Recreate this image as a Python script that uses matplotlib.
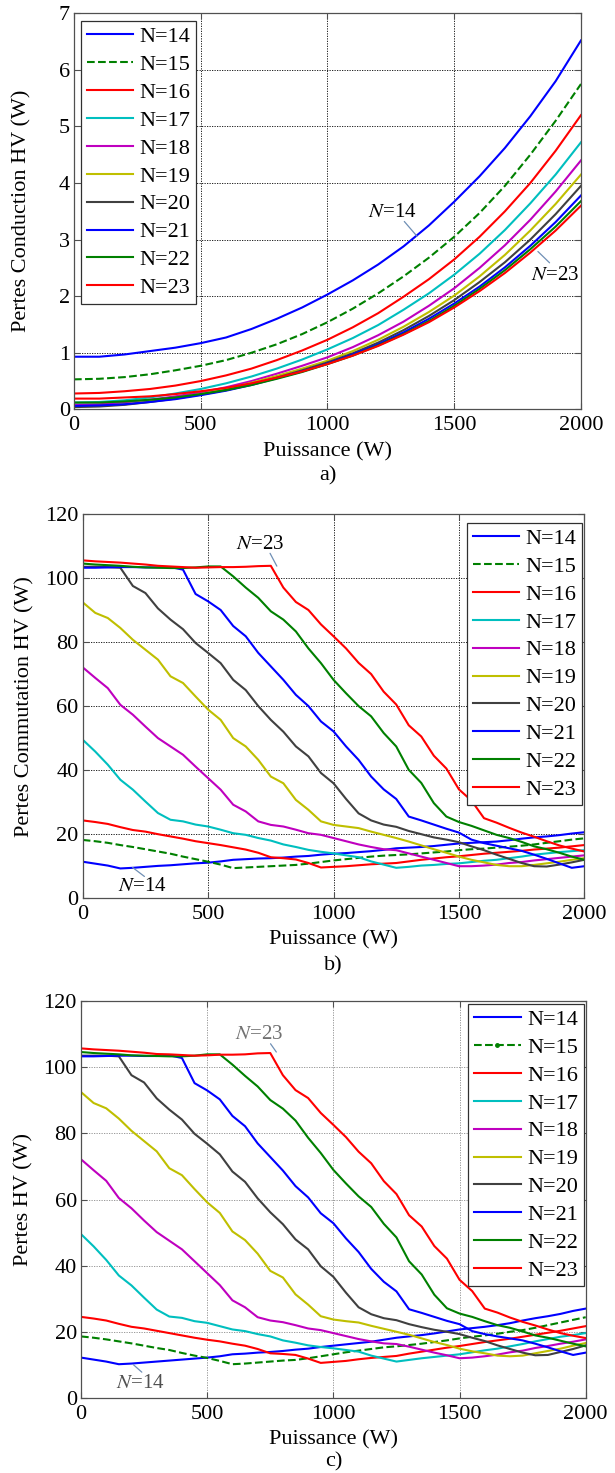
import numpy as np
import matplotlib
matplotlib.use('Agg')
import matplotlib.pyplot as plt
from matplotlib.lines import Line2D
from matplotlib.ticker import MultipleLocator

# ==================== 数据 ====================
LABELS = ['N=14', 'N=15', 'N=16', 'N=17', 'N=18', 'N=19', 'N=20', 'N=21', 'N=22', 'N=23']

# a) 导通损耗，横轴每 100 W 一点
P_a = np.arange(0, 2001, 100)
cond_14 = [0.93, 0.93, 0.97, 1.03, 1.09, 1.17, 1.27, 1.42, 1.60, 1.80, 2.03, 2.28, 2.56, 2.88, 3.25, 3.67, 4.12, 4.62, 5.18, 5.80, 6.52]
cond_15 = [0.53, 0.54, 0.57, 0.62, 0.69, 0.77, 0.87, 1.00, 1.15, 1.33, 1.54, 1.78, 2.05, 2.35, 2.68, 3.05, 3.47, 3.95, 4.50, 5.10, 5.75]
cond_16 = [0.28, 0.29, 0.32, 0.36, 0.42, 0.50, 0.60, 0.72, 0.87, 1.04, 1.23, 1.45, 1.70, 1.99, 2.30, 2.65, 3.05, 3.50, 4.00, 4.57, 5.20]
cond_17 = [0.12, 0.13, 0.16, 0.21, 0.28, 0.36, 0.46, 0.58, 0.72, 0.88, 1.06, 1.26, 1.49, 1.76, 2.05, 2.38, 2.75, 3.17, 3.64, 4.15, 4.72]
cond_18 = [0.08, 0.09, 0.12, 0.17, 0.23, 0.30, 0.39, 0.50, 0.63, 0.77, 0.92, 1.10, 1.31, 1.55, 1.83, 2.14, 2.50, 2.90, 3.35, 3.85, 4.40]
cond_19 = [0.05, 0.06, 0.09, 0.14, 0.20, 0.27, 0.36, 0.47, 0.59, 0.72, 0.86, 1.03, 1.23, 1.46, 1.72, 2.01, 2.35, 2.73, 3.16, 3.63, 4.15]
cond_20 = [0.04, 0.05, 0.08, 0.13, 0.19, 0.26, 0.34, 0.44, 0.56, 0.69, 0.83, 0.99, 1.18, 1.40, 1.65, 1.93, 2.25, 2.60, 3.00, 3.45, 3.95]
cond_21 = [0.06, 0.07, 0.09, 0.13, 0.18, 0.25, 0.33, 0.43, 0.55, 0.67, 0.81, 0.97, 1.15, 1.36, 1.60, 1.87, 2.17, 2.51, 2.89, 3.31, 3.78]
cond_22 = [0.12, 0.12, 0.14, 0.17, 0.21, 0.27, 0.34, 0.43, 0.54, 0.66, 0.80, 0.95, 1.13, 1.33, 1.56, 1.83, 2.13, 2.46, 2.83, 3.23, 3.68]
cond_23 = [0.19, 0.19, 0.21, 0.23, 0.27, 0.32, 0.38, 0.46, 0.56, 0.67, 0.80, 0.95, 1.12, 1.32, 1.54, 1.80, 2.09, 2.41, 2.77, 3.16, 3.60]

# b) 开关损耗，横轴每 50 W 一点
P_b = np.arange(0, 2001, 50)
comm_14 = [11.4, 10.8, 10.2, 9.3, 9.5, 9.8, 10.1, 10.3, 10.6, 10.9, 11.1, 11.5, 12.0, 12.2, 12.4, 12.5, 12.7, 13.0, 13.2, 13.6, 13.9,
           14.1, 14.4, 14.7, 15.1, 15.6, 15.8, 16.0, 16.3, 16.7, 17.1, 17.3, 17.5, 17.7, 18.1, 18.6, 19.0, 19.3, 19.7, 20.2, 20.6]
comm_15 = [18.2, 17.8, 17.3, 16.6, 16.0, 15.3, 14.6, 13.9, 13.0, 12.2, 11.4, 10.5, 9.4, 9.6, 9.8, 10.0, 10.2, 10.4, 10.8, 11.3, 11.8,
           12.2, 12.6, 13.0, 13.3, 13.5, 13.7, 14.0, 14.3, 14.6, 15.0, 15.3, 15.5, 15.8, 16.1, 16.4, 16.8, 17.3, 17.8, 18.3, 18.7]
comm_16 = [24.3, 23.8, 23.2, 22.2, 21.3, 20.8, 20.0, 19.3, 18.6, 17.8, 17.2, 16.6, 15.9, 15.2, 14.2, 12.8, 12.5, 12.1, 11.0, 9.6, 9.8,
           10.0, 10.3, 10.6, 10.8, 11.0, 11.5, 12.0, 12.4, 12.8, 13.1, 13.5, 13.9, 14.2, 14.5, 14.8, 15.2, 15.5, 15.8, 16.2, 16.6]
comm_17 = [49.5, 45.8, 41.7, 37.0, 33.9, 30.2, 26.6, 24.5, 24.0, 23.0, 22.4, 21.4, 20.3, 19.8, 18.8, 18.0, 16.8, 16.0, 15.1, 14.5, 14.0,
           13.4, 12.8, 11.5, 10.5, 9.5, 9.8, 10.2, 10.4, 10.7, 10.9, 11.3, 11.7, 12.0, 12.5, 13.0, 13.6, 14.0, 14.4, 14.7, 15.0]
comm_18 = [72.1, 68.8, 65.6, 60.4, 57.3, 53.6, 50.0, 47.4, 44.8, 41.1, 37.5, 33.9, 29.2, 27.1, 24.0, 22.9, 22.4, 21.4, 20.3, 19.8, 18.8,
           17.8, 16.8, 16.0, 15.3, 15.0, 14.0, 13.0, 12.0, 11.0, 10.0, 10.0, 10.2, 10.5, 11.0, 11.3, 11.8, 12.2, 12.6, 13.0, 13.4]
comm_19 = [92.4, 89.1, 87.5, 84.4, 80.7, 77.6, 74.5, 69.3, 67.2, 63.0, 58.9, 55.7, 50.0, 47.4, 43.2, 38.0, 35.9, 30.7, 27.6, 24.0, 22.9,
           22.4, 21.9, 20.8, 19.8, 18.8, 17.7, 16.5, 15.3, 14.2, 13.0, 12.0, 11.2, 10.4, 10.0, 10.0, 10.4, 10.9, 11.4, 12.0, 12.5]
comm_20 = [103.5, 103.5, 103.4, 103.2, 97.5, 95.3, 90.5, 87.0, 84.0, 79.7, 76.6, 73.4, 68.2, 65.0, 60.0, 55.7, 52.0, 47.4, 44.3, 39.1, 35.9,
           31.0, 26.5, 24.3, 23.0, 22.3, 21.0, 20.0, 19.0, 18.3, 17.5, 16.2, 15.0, 13.6, 12.3, 11.0, 10.0, 9.9, 10.5, 11.2, 12.0]
comm_21 = [103.2, 103.2, 103.3, 103.4, 103.4, 103.3, 103.3, 103.4, 102.6, 95.0, 92.7, 90.0, 85.0, 81.8, 76.6, 72.4, 68.2, 63.5, 60.0, 55.2, 52.1,
           47.4, 43.2, 38.0, 34.0, 31.0, 25.5, 24.3, 23.0, 21.7, 20.5, 18.3, 17.2, 16.4, 15.6, 14.8, 13.6, 12.3, 10.9, 9.5, 10.0]
comm_22 = [104.5, 104.2, 104.0, 103.8, 103.5, 103.3, 103.2, 103.1, 103.1, 103.3, 103.6, 103.6, 100.5, 97.0, 93.8, 89.6, 87.0, 83.3, 78.0, 73.4, 68.2,
           64.0, 60.0, 56.8, 51.6, 47.4, 40.1, 36.0, 29.7, 25.5, 23.8, 22.6, 21.2, 19.8, 18.8, 17.6, 16.2, 15.3, 14.2, 13.0, 12.0]
comm_23 = [105.5, 105.2, 105.0, 104.8, 104.5, 104.2, 103.8, 103.6, 103.4, 103.2, 103.3, 103.4, 103.4, 103.5, 103.7, 103.8, 97.0, 92.5, 90.0, 85.5, 81.8,
           78.0, 73.5, 70.0, 64.5, 60.5, 54.0, 50.5, 44.5, 40.5, 34.0, 30.5, 25.0, 23.6, 22.0, 20.5, 19.2, 17.8, 16.5, 15.5, 14.6]

# c) 高压侧总损耗，横轴每 50 W 一点
P_c = np.arange(0, 2001, 50)
tot_14 = [12.3, 11.7, 11.1, 10.3, 10.5, 10.8, 11.1, 11.4, 11.7, 12.0, 12.3, 12.7, 13.3, 13.5, 13.8, 14.0, 14.3, 14.7, 15.0, 15.5, 15.9,
          16.3, 16.7, 17.1, 17.7, 18.3, 18.7, 19.1, 19.6, 20.2, 20.8, 21.2, 21.6, 22.1, 22.7, 23.5, 24.2, 24.8, 25.5, 26.4, 27.1]
tot_15 = [18.7, 18.3, 17.8, 17.2, 16.6, 15.9, 15.2, 14.6, 13.7, 12.9, 12.2, 11.3, 10.3, 10.5, 10.8, 11.1, 11.4, 11.6, 12.1, 12.7, 13.3,
          13.9, 14.4, 14.9, 15.4, 15.7, 16.1, 16.5, 17.0, 17.5, 18.1, 18.6, 19.0, 19.5, 20.1, 20.6, 21.3, 22.1, 22.9, 23.7, 24.5]
tot_16 = [24.6, 24.1, 23.5, 22.5, 21.6, 21.1, 20.4, 19.7, 19.0, 18.3, 17.7, 17.2, 16.5, 15.9, 14.9, 13.6, 13.4, 13.1, 12.0, 10.7, 11.0,
          11.3, 11.8, 12.2, 12.5, 12.8, 13.5, 14.1, 14.7, 15.3, 15.8, 16.4, 17.0, 17.5, 18.0, 18.6, 19.2, 19.8, 20.4, 21.1, 21.8]
tot_17 = [49.6, 45.9, 41.8, 37.1, 34.1, 30.4, 26.8, 24.7, 24.3, 23.3, 22.8, 21.8, 20.8, 20.3, 19.4, 18.7, 17.5, 16.8, 16.0, 15.5, 15.1,
          14.6, 14.1, 12.9, 12.0, 11.1, 11.6, 12.1, 12.5, 12.9, 13.3, 13.9, 14.5, 15.0, 15.7, 16.4, 17.2, 17.9, 18.6, 19.1, 19.7]
tot_18 = [72.2, 68.9, 65.7, 60.5, 57.4, 53.7, 50.2, 47.6, 45.0, 41.4, 37.8, 34.2, 29.6, 27.5, 24.5, 23.5, 23.0, 22.1, 21.1, 20.6, 19.7,
          18.8, 17.9, 17.2, 16.6, 16.4, 15.6, 14.7, 13.8, 13.0, 12.1, 12.3, 12.7, 13.2, 13.9, 14.4, 15.2, 15.8, 16.5, 17.1, 17.8]
tot_19 = [92.5, 89.2, 87.6, 84.5, 80.8, 77.7, 74.6, 69.5, 67.4, 63.2, 59.2, 56.0, 50.4, 47.8, 43.7, 38.5, 36.5, 31.4, 28.3, 24.8, 23.8,
          23.3, 22.9, 21.9, 21.0, 20.1, 19.2, 18.1, 17.0, 16.1, 15.0, 14.2, 13.6, 12.9, 12.7, 12.9, 13.6, 14.3, 15.0, 15.9, 16.7]
tot_20 = [103.5, 103.5, 103.5, 103.3, 97.6, 95.4, 90.6, 87.2, 84.2, 79.9, 76.9, 73.7, 68.5, 65.4, 60.4, 56.2, 52.6, 48.0, 45.0, 39.9, 36.7,
          31.9, 27.5, 25.4, 24.2, 23.6, 22.4, 21.5, 20.7, 20.1, 19.4, 18.3, 17.3, 16.0, 14.9, 13.8, 13.0, 13.1, 14.0, 14.9, 16.0]
tot_21 = [103.3, 103.3, 103.4, 103.5, 103.5, 103.4, 103.4, 103.6, 102.8, 95.2, 93.0, 90.3, 85.3, 82.2, 77.0, 72.9, 68.8, 64.1, 60.7, 55.9, 52.9,
          48.3, 44.2, 39.1, 35.2, 32.3, 26.9, 25.8, 24.6, 23.4, 22.4, 20.3, 19.4, 18.7, 18.1, 17.5, 16.5, 15.4, 14.2, 13.1, 13.8]
tot_22 = [104.6, 104.3, 104.1, 103.9, 103.6, 103.5, 103.4, 103.3, 103.3, 103.5, 103.9, 103.9, 100.8, 97.4, 94.2, 90.1, 87.5, 83.9, 78.7, 74.1, 69.0,
          64.9, 61.0, 57.8, 52.7, 48.6, 41.4, 37.4, 31.3, 27.2, 25.6, 24.6, 23.3, 22.1, 21.3, 20.2, 19.0, 18.3, 17.4, 16.5, 15.7]
tot_23 = [105.7, 105.4, 105.2, 105.0, 104.7, 104.4, 104.0, 103.9, 103.7, 103.5, 103.6, 103.8, 103.8, 103.9, 104.2, 104.3, 97.6, 93.1, 90.7, 86.2, 82.6,
          78.9, 74.5, 71.0, 65.6, 61.7, 55.3, 51.9, 46.0, 42.2, 35.8, 32.4, 27.1, 25.9, 24.4, 23.1, 22.0, 20.8, 19.7, 18.9, 18.2]

COND = [cond_14, cond_15, cond_16, cond_17, cond_18, cond_19, cond_20, cond_21, cond_22, cond_23]
COMM = [comm_14, comm_15, comm_16, comm_17, comm_18, comm_19, comm_20, comm_21, comm_22, comm_23]
TOT = [tot_14, tot_15, tot_16, tot_17, tot_18, tot_19, tot_20, tot_21, tot_22, tot_23]

# ==================== 样式 ====================
COLORS = [(0, 0, 1), (0, 0.5, 0), (1, 0, 0), (0, 0.75, 0.75), (0.75, 0, 0.75),
          (0.75, 0.75, 0), (0.25, 0.25, 0.25), (0, 0, 1), (0, 0.5, 0), (1, 0, 0)]
STYLES = ['-', '--', '-', '-', '-', '-', '-', '-', '-', '-']
LINE_WIDTH = 1.5
FS = 16
SPINE_COLOR = '#505050'
ANNOT_LINE = '#6f8fb5'

plt.rcParams['font.family'] = ['Liberation Serif', 'DejaVu Serif']
plt.rcParams['mathtext.fontset'] = 'stix'

fig = plt.figure(figsize=(6.15, 14.73), dpi=100)
ax_a = fig.add_axes([0.1203, 0.7221, 0.8244, 0.2689])
ax_b = fig.add_axes([0.1345, 0.3902, 0.8156, 0.2609])
ax_c = fig.add_axes([0.1317, 0.0507, 0.8207, 0.2697])


def style_axes(ax, ymax, ystep, ylabel, ylab_x, xlab_y, grid_color):
    ax.set_xlim(0, 2000)
    ax.set_ylim(0, ymax)
    ax.xaxis.set_major_locator(MultipleLocator(500))
    ax.yaxis.set_major_locator(MultipleLocator(ystep))
    ax.grid(True, color=grid_color, linestyle=(0, (1.5, 1.5)), linewidth=0.6)
    ax.set_axisbelow(True)
    ax.tick_params(direction='in', top=True, right=True, length=4, width=0.8,
                   color=SPINE_COLOR, labelsize=FS)
    ax.tick_params(axis='x', pad=5)
    ax.tick_params(axis='y', pad=3)
    for sp in ax.spines.values():
        sp.set_color(SPINE_COLOR)
        sp.set_linewidth(0.9)
    ax.set_xlabel('Puissance (W)', fontsize=FS)
    ax.set_ylabel(ylabel, fontsize=FS)
    ax.xaxis.set_label_coords(0.5, xlab_y)
    ax.xaxis.label.set_va('center')
    ax.yaxis.set_label_coords(ylab_x, 0.5)
    ax.yaxis.label.set_va('center')


def annot(ax, text, text_pos, line_from, line_to, color='black'):
    # 文字与引线分开画，引线从文字旁边指向曲线
    ax.text(*text_pos, text, fontsize=15, color=color, ha='center', va='center')
    ax.annotate('', xy=line_to, xytext=line_from,
                arrowprops=dict(arrowstyle='-', color=ANNOT_LINE, lw=0.9,
                                shrinkA=0, shrinkB=0))


LEG_KW = dict(fontsize=FS, frameon=True, fancybox=False, framealpha=1,
              edgecolor='#303030', borderpad=0.25, labelspacing=0.33,
              handlelength=2.1, handletextpad=0.3, borderaxespad=0)

# ---------- a) ----------
for vals, col, ls, lab in zip(COND, COLORS, STYLES, LABELS):
    ax_a.plot(P_a, vals, color=col, linestyle=ls, linewidth=LINE_WIDTH, label=lab)
style_axes(ax_a, 7, 1, 'Pertes Conduction HV (W)', -0.1026, -0.107, 'black')
leg = ax_a.legend(loc='upper left', bbox_to_anchor=(0.0138, 0.9805), **LEG_KW)
leg.get_frame().set_linewidth(0.9)
annot(ax_a, '$N$=14', (1255, 3.47), (1303, 3.32), (1353, 3.06))
annot(ax_a, '$N$=23', (1899, 2.36), (1876, 2.59), (1830, 2.79))

# ---------- b) ----------
for vals, col, ls, lab in zip(COMM, COLORS, STYLES, LABELS):
    ax_b.plot(P_b, vals, color=col, linestyle=ls, linewidth=LINE_WIDTH, label=lab)
style_axes(ax_b, 120, 20, 'Pertes Commutation HV (W)', -0.115, -0.1085, 'black')
leg = ax_b.legend(loc='upper right', bbox_to_anchor=(0.996, 0.977), **LEG_KW)
leg.get_frame().set_linewidth(0.9)
annot(ax_b, '$N$=23', (708, 110.3), (747, 107.7), (774, 103.7))
annot(ax_b, '$N$=14', (238, 3.6), (246, 6.8), (199, 9.6))

# ---------- c) ----------
for vals, col, ls in zip(TOT, COLORS, STYLES):
    ax_c.plot(P_c, vals, color=col, linestyle=ls, linewidth=LINE_WIDTH)
style_axes(ax_c, 120, 20, 'Pertes HV (W)', -0.113, -0.105, '#8a8a8a')
handles = []
for i, (col, ls) in enumerate(zip(COLORS, STYLES)):
    mk = '.' if i == 1 else None
    handles.append(Line2D([], [], color=col, linestyle=ls, linewidth=LINE_WIDTH,
                          marker=mk, markersize=5))
leg = ax_c.legend(handles, LABELS, loc='upper right', bbox_to_anchor=(0.996, 0.993),
                  numpoints=1, **LEG_KW)
leg.get_frame().set_linewidth(0.9)
annot(ax_c, '$N$=23', (704, 109.9), (751, 107.1), (774, 104.6), color='#707070')
annot(ax_c, '$N$=14', (235, 4.5), (241, 7.9), (207, 10.2), color='#505050')

# ---------- 子图标注 ----------
fig.text(0.5325, 1 - 476 / 1473, 'a)', ha='center', va='center', fontsize=FS)
fig.text(0.5425, 1 - 966 / 1473, 'b)', ha='center', va='center', fontsize=FS)
fig.text(0.5420, 1 - 1462 / 1473, 'c)', ha='center', va='center', fontsize=FS)

fig.savefig('out.png', dpi=100, facecolor='white')
